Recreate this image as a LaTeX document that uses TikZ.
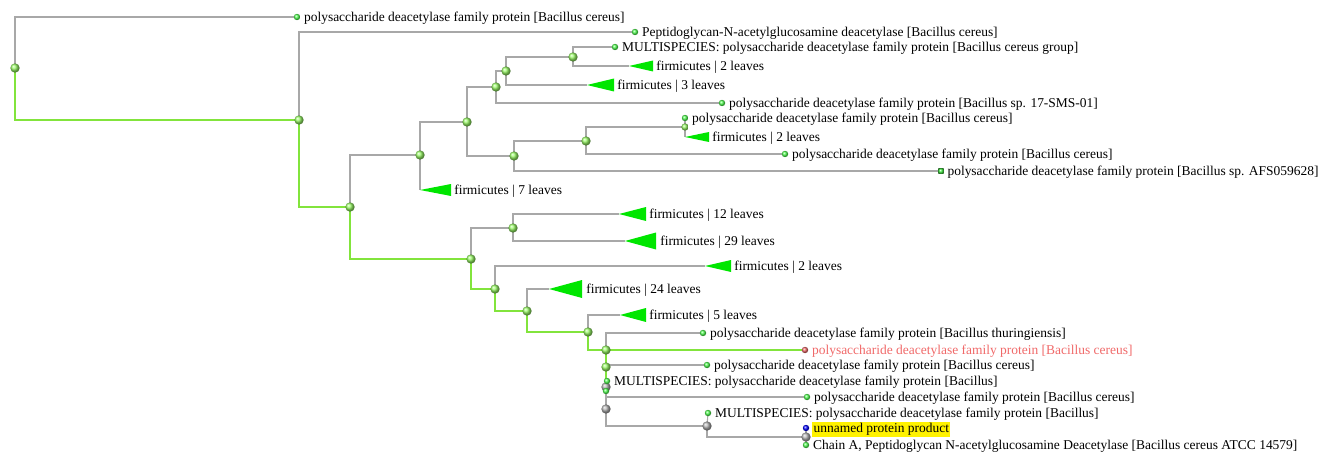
\documentclass[tikz,border=0pt]{standalone}
\usepackage{fontspec}
\setmainfont{Liberation Serif}
\usepackage{tikz}
\usetikzlibrary{positioning}
\definecolor{linegray}{RGB}{168,168,168}
\definecolor{linegreen}{RGB}{130,228,60}
\definecolor{cladegreen}{RGB}{0,230,0}
\definecolor{nodegreen}{RGB}{150,245,100}
\definecolor{leafgreen}{RGB}{80,255,80}
\definecolor{nodegray}{RGB}{175,175,175}
\definecolor{redlabel}{RGB}{240,105,105}
\tikzset{br/.style = {draw = linegray, line width = 0.8pt}}
\tikzset{hl/.style = {draw = linegreen, line width = 1.1pt}}
\tikzset{inode/.style = {circle, inner sep = 0, minimum size = 7pt, ball color = nodegreen}}
\tikzset{gnode/.style = {circle, inner sep = 0, minimum size = 7pt, ball color = nodegray}}
\tikzset{leaf/.style = {circle, inner sep = 0, minimum size = 4.8pt, ball color = leafgreen}}
\tikzset{clade/.style = {fill = cladegreen}}
\tikzset{lbl/.style = {anchor = west, inner sep = 0, yshift = -1pt, font = \fontsize{10.1}{11}\selectfont}}

\begin{document}
\begin{tikzpicture}[x = 0.75pt, y = -0.75pt]
  \useasboundingbox (0, 0) rectangle (1334, 456);
  % node positions
  \coordinate (root) at (15, 68);
  \coordinate (n1) at (299, 120);
  \coordinate (n2) at (350, 207);
  \coordinate (n3) at (420, 155);
  \coordinate (n4) at (471, 259);
  \coordinate (n5) at (467, 122);
  \coordinate (n6) at (496, 87);
  \coordinate (n7) at (514, 156);
  \coordinate (n8) at (506, 71);
  \coordinate (n9) at (573, 57);
  \coordinate (n10) at (586, 141);
  \coordinate (n11) at (685, 127);
  \coordinate (n12) at (513, 228);
  \coordinate (n13) at (495, 289);
  \coordinate (n14) at (527, 311);
  \coordinate (n15) at (588, 332);
  \coordinate (na) at (606, 350);
  \coordinate (nb) at (606, 367);
  \coordinate (nc) at (606, 387);
  \coordinate (nd) at (606, 409);
  \coordinate (ne) at (707, 426);
  \coordinate (nf) at (806, 437);
  % leaves
  \coordinate (l1) at (297, 17);
  \coordinate (lpep) at (635, 32);
  \coordinate (lms1) at (615, 47);
  \coordinate (l17) at (722, 103);
  \coordinate (lcer1) at (685, 118);
  \coordinate (lcer2) at (785, 154);
  \coordinate (lafs) at (941, 171);
  \coordinate (lthur) at (703, 333);
  \coordinate (lred) at (805, 350);
  \coordinate (lcer3) at (707, 365);
  \coordinate (lms2) at (607, 381);
  \coordinate (lx) at (606, 391);
  \coordinate (lcer4) at (807, 397);
  \coordinate (lms3) at (708, 413);
  \coordinate (lblue) at (806, 428);
  \coordinate (lchain) at (806, 445);
  % collapsed clades
  \coordinate (t7) at (420, 190);
  \coordinate (t2a) at (629, 66);
  \coordinate (t3) at (587, 85);
  \coordinate (t2b) at (685, 137);
  \coordinate (t12) at (619, 214);
  \coordinate (t29) at (625, 241);
  \coordinate (t2c) at (705, 266);
  \coordinate (t24) at (549, 289);
  \coordinate (t5) at (620, 315);

  % branches
  \draw [br] (root) |- (l1);
  \draw [br] (n1) |- (lpep);
  \draw [br] (n2) |- (n3);
  \draw [br] (n3) |- (n5);
  \draw [br] (n3) |- (t7);
  \draw [br] (n5) |- (n6);
  \draw [br] (n5) |- (n7);
  \draw [br] (n6) |- (n8);
  \draw [br] (n6) |- (l17);
  \draw [br] (n8) |- (n9);
  \draw [br] (n8) |- (t3);
  \draw [br] (n9) |- (lms1);
  \draw [br] (n9) |- (t2a);
  \draw [br] (n7) |- (n10);
  \draw [br] (n7) |- (lafs);
  \draw [br] (n10) |- (n11);
  \draw [br] (n10) |- (lcer2);
  \draw [br] (lcer1) -- (t2b);
  \draw [br] (n4) |- (n12);
  \draw [br] (n12) |- (t12);
  \draw [br] (n12) |- (t29);
  \draw [br] (n13) |- (t2c);
  \draw [br] (n14) |- (t24);
  \draw [br] (n15) |- (t5);
  \draw [br] (na) |- (lthur);
  \draw [br] (nb) |- (lcer3);
  \draw [br] (nc) |- (lcer4);
  \draw [br] (lx) -- (nd);
  \draw [br] (nd) |- (ne);
  \draw [br] (lms3) -- (ne);
  \draw [br] (ne) |- (nf);
  \draw [br] (lblue) -- (lchain);
  % highlighted path
  \draw [hl] (root) |- (n1);
  \draw [hl] (n1) |- (n2);
  \draw [hl] (n2) |- (n4);
  \draw [hl] (n4) |- (n13);
  \draw [hl] (n13) |- (n14);
  \draw [hl] (n14) |- (n15);
  \draw [hl] (n15) |- (na);
  \draw [hl] (na) -- (lred);
  \draw [hl] (na) -- (lx);

  % collapsed clades
  \fill [clade] (t7) -- ++(31, -6) -- ++(0, 12) -- cycle;
  \fill [clade] (t2a) -- ++(24, -5.5) -- ++(0, 11) -- cycle;
  \fill [clade] (t3) -- ++(27, -6.5) -- ++(0, 13) -- cycle;
  \fill [clade] (t2b) -- ++(24, -5) -- ++(0, 10) -- cycle;
  \fill [clade] (t12) -- ++(27, -7) -- ++(0, 14) -- cycle;
  \fill [clade] (t29) -- ++(31, -8.5) -- ++(0, 17) -- cycle;
  \fill [clade] (t2c) -- ++(26, -6) -- ++(0, 12) -- cycle;
  \fill [clade] (t24) -- ++(33, -9) -- ++(0, 18) -- cycle;
  \fill [clade] (t5) -- ++(26, -7) -- ++(0, 14) -- cycle;
  \node [lbl] (c7) at (454, 190) {firmicutes | 7 leaves};
  \node [lbl] (c2a) at (656, 66) {firmicutes | 2 leaves};
  \node [lbl] (c3) at (617, 85) {firmicutes | 3 leaves};
  \node [lbl] (c2b) at (712, 137) {firmicutes | 2 leaves};
  \node [lbl] (c12) at (649, 214) {firmicutes | 12 leaves};
  \node [lbl] (c29) at (660, 241) {firmicutes | 29 leaves};
  \node [lbl] (c2c) at (734, 266) {firmicutes | 2 leaves};
  \node [lbl] (c24) at (586, 289) {firmicutes | 24 leaves};
  \node [lbl] (c5) at (649, 315) {firmicutes | 5 leaves};

  % internal nodes
  \foreach \n in {root, n1, n2, n3, n4, n5, n6, n7, n8, n9, n10, n12, n13, n14, n15, na, nb}
    \node [inode] (d\n) at (\n) {};
  \foreach \n in {nd, ne}
    \node [gnode] (d\n) at (\n) {};

  % leaves and labels
  \node [leaf] (dl1) at (l1) {};
  \node [lbl, right = 2.5pt of dl1] (tl1) {polysaccharide deacetylase family protein [Bacillus cereus]};
  \node [leaf] (dlpep) at (lpep) {};
  \node [lbl, right = 2.5pt of dlpep] (tlpep) {Peptidoglycan-N-acetylglucosamine deacetylase [Bacillus cereus]};
  \node [leaf] (dlms1) at (lms1) {};
  \node [lbl, right = 2.5pt of dlms1] (tlms1) {MULTISPECIES: polysaccharide deacetylase family protein [Bacillus cereus group]};
  \node [leaf] (dl17) at (l17) {};
  \node [lbl, right = 2.5pt of dl17] (tl17) {polysaccharide deacetylase family protein [Bacillus sp. 17-SMS-01]};
  \node [leaf] (dlcer1) at (lcer1) {};
  \node [inode, minimum size = 5.5pt] (dn11) at (n11) {};
  \node [lbl, right = 2.5pt of dlcer1] (tlcer1) {polysaccharide deacetylase family protein [Bacillus cereus]};
  \node [leaf] (dlcer2) at (lcer2) {};
  \node [lbl, right = 2.5pt of dlcer2] (tlcer2) {polysaccharide deacetylase family protein [Bacillus cereus]};
  \node [leaf, rectangle, minimum size = 4pt] (dlafs) at (lafs) {};
  \node [lbl, right = 2.5pt of dlafs] (tlafs) {polysaccharide deacetylase family protein [Bacillus sp. AFS059628]};
  \node [leaf] (dlthur) at (lthur) {};
  \node [lbl, right = 2.5pt of dlthur] (tlthur) {polysaccharide deacetylase family protein [Bacillus thuringiensis]};
  \node [leaf, ball color = redlabel] (dlred) at (lred) {};
  \node [lbl, right = 2.5pt of dlred, text = redlabel] (tlred) {polysaccharide deacetylase family protein [Bacillus cereus]};
  \node [leaf] (dlcer3) at (lcer3) {};
  \node [lbl, right = 2.5pt of dlcer3] (tlcer3) {polysaccharide deacetylase family protein [Bacillus cereus]};
  \node [gnode] (dnc) at (nc) {};
  \node [leaf] (dlx) at (lx) {};
  \node [leaf] (dlms2) at (lms2) {};
  \node [lbl, right = 2.5pt of dlms2] (tlms2) {MULTISPECIES: polysaccharide deacetylase family protein [Bacillus]};
  \node [leaf] (dlcer4) at (lcer4) {};
  \node [lbl, right = 2.5pt of dlcer4] (tlcer4) {polysaccharide deacetylase family protein [Bacillus cereus]};
  \node [leaf] (dlms3) at (lms3) {};
  \node [lbl, right = 2.5pt of dlms3] (tlms3) {MULTISPECIES: polysaccharide deacetylase family protein [Bacillus]};
  \node [leaf, ball color = blue] (dlblue) at (lblue) {};
  \node [lbl, right = 2pt of dlblue, fill = yellow, inner sep = 1pt] (tlblue) {unnamed protein product};
  \node [gnode] (dnf) at (nf) {};
  \node [leaf] (dlchain) at (lchain) {};
  \node [lbl, right = 2.5pt of dlchain] (tlchain) {Chain A, Peptidoglycan N-acetylglucosamine Deacetylase [Bacillus cereus ATCC 14579]};
\end{tikzpicture}
\end{document}
